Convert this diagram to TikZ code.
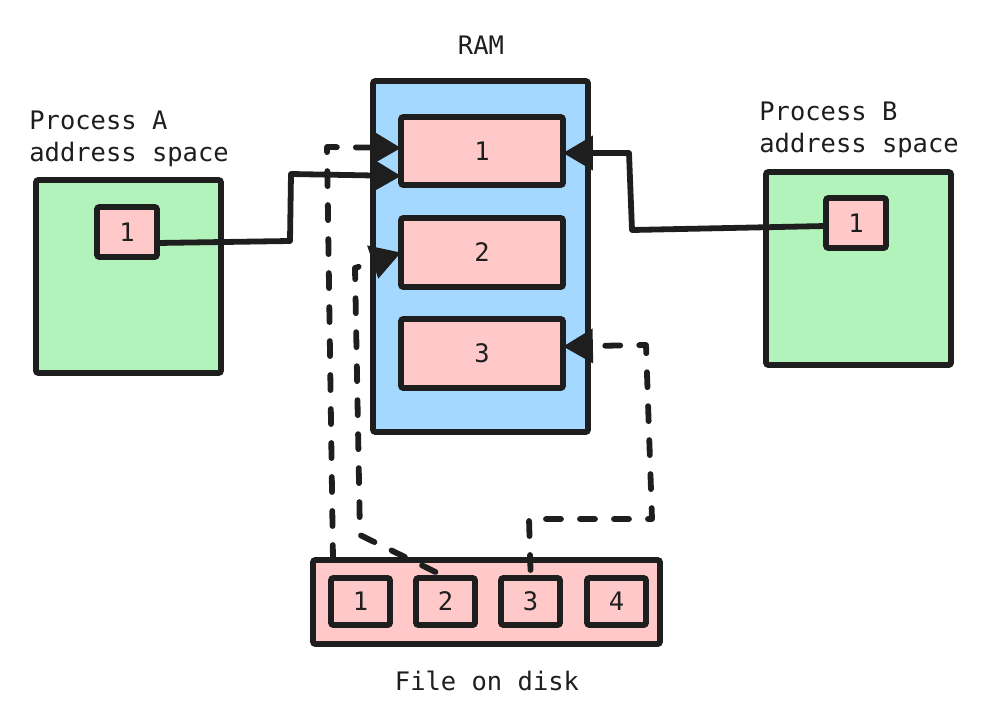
\documentclass[tikz,border=0pt]{standalone}
\usepackage{fontspec}
\setmonofont{DejaVu Sans Mono}
\usetikzlibrary{arrows.meta,calc}
\definecolor{ink}{HTML}{1E1E1E}
\definecolor{pgreen}{HTML}{B2F2BB}
\definecolor{pblue}{HTML}{A5D8FF}
\definecolor{ppink}{HTML}{FFC9C9}
\tikzset{
  box/.style={draw=ink,line width=3.4pt,rounded corners=1.5pt,inner sep=0pt,outer sep=0pt,anchor=north west},
  lbl/.style={font=\ttfamily\fontsize{14.5}{18.2}\selectfont,text=ink},
  conn/.style={draw=ink,line width=3.3pt,line join=round,-{Triangle[length=17pt,width=19pt]}},
  dconn/.style={conn,line cap=round,dash pattern=on 0.3cm off 0.38cm},
}
\begin{document}
\begin{tikzpicture}[x=0.02cm,y=-0.02cm]
\useasboundingbox (0,0) rectangle (1001,720);
% Process A
\node[box,fill=pgreen,minimum width=185*0.02cm,minimum height=193*0.02cm] (pa) at (36,180) {};
\node[box,fill=ppink,minimum width=60*0.02cm,minimum height=50*0.02cm,lbl] (a1) at (97,207) {1};
\node[lbl,anchor=north west,align=left,inner sep=0pt] (palbl) at (29,111) {Process A\\address space};
% RAM
\node[box,fill=pblue,minimum width=215*0.02cm,minimum height=351*0.02cm] (ram) at (373,81) {};
\node[lbl] (ramlbl) at (481,45) {RAM};
\node[box,fill=ppink,minimum width=162*0.02cm,minimum height=68*0.02cm,lbl] (r1) at (401,117) {1};
\node[box,fill=ppink,minimum width=162*0.02cm,minimum height=69*0.02cm,lbl] (r2) at (401,218) {2};
\node[box,fill=ppink,minimum width=162*0.02cm,minimum height=69*0.02cm,lbl] (r3) at (401,319) {3};
% Process B
\node[box,fill=pgreen,minimum width=185*0.02cm,minimum height=193*0.02cm] (pb) at (766,172) {};
\node[box,fill=ppink,minimum width=60*0.02cm,minimum height=50*0.02cm,lbl] (b1) at (826,198) {1};
\node[lbl,anchor=north west,align=left,inner sep=0pt] (pblbl) at (759,102) {Process B\\address space};
% Disk
\node[box,fill=ppink,minimum width=347*0.02cm,minimum height=84*0.02cm] (disk) at (313,560) {};
\node[box,fill=ppink,minimum width=59*0.02cm,minimum height=47*0.02cm,lbl] (d1) at (331,578) {1};
\node[box,fill=ppink,minimum width=59*0.02cm,minimum height=47*0.02cm,lbl] (d2) at (416,578) {2};
\node[box,fill=ppink,minimum width=59*0.02cm,minimum height=47*0.02cm,lbl] (d3) at (501,578) {3};
\node[box,fill=ppink,minimum width=59*0.02cm,minimum height=47*0.02cm,lbl] (d4) at (587,578) {4};
\node[lbl] (disklbl) at (487,681) {File on disk};
% bend points
\coordinate (ca1) at (290,241);
\coordinate (ca2) at (291,174);
\coordinate (cb1) at (632,230);
\coordinate (cb2) at (629,153);
\coordinate (cd1) at (327,147);
\coordinate (cd2a) at (360,535);
\coordinate (cd2b) at (355,268);
\coordinate (cd3a) at (529,519);
\coordinate (cd3b) at (652,519);
\coordinate (cd3c) at (646,345);
% solid connectors
\draw[conn] ($(a1.east)+(0,11)$) -- (ca1) -- (ca2) -- ($(r1.west)+(0,25)$);
\draw[conn] ($(b1.west)+(0,3)$) -- (cb1) -- (cb2) -- ($(r1.east)+(0,2)$);
% dashed connectors
\draw[dconn] ($(disk.north west)+(20,0)$) -- (cd1) -- ($(r1.west)+(0,-3)$);
\draw[dconn] ($(d2.north)+(-10,-6)$) -- (cd2a) -- (cd2b) -- (r2.west);
\draw[dconn] ($(d3.north)+(0,-8)$) -- (cd3a) -- (cd3b) -- (cd3c) -- ($(r3.east)+(0,-7)$);
\end{tikzpicture}
\end{document}
